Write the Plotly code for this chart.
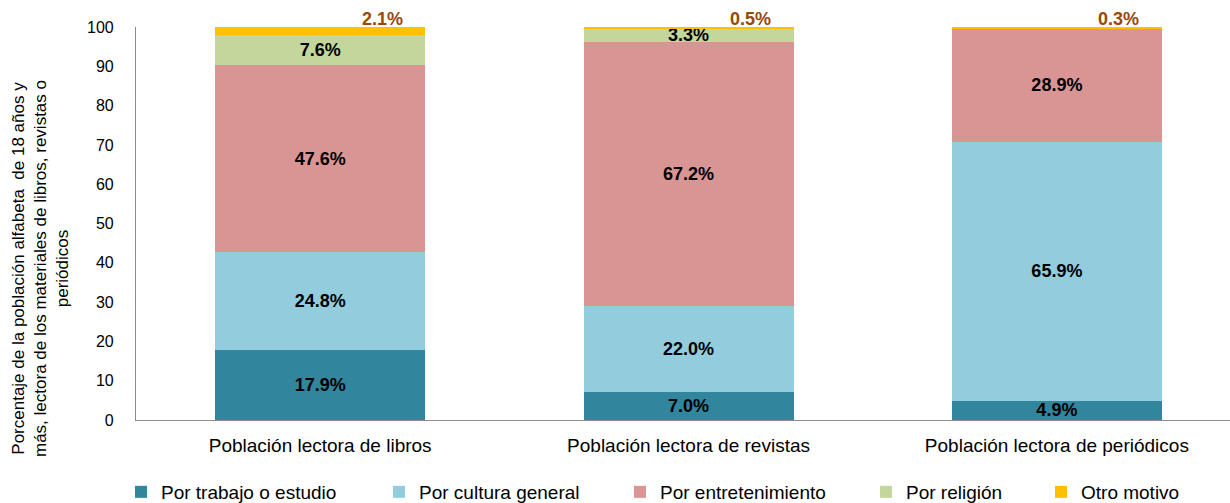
import plotly.graph_objects as go

categories = ["Población lectora de libros", "Población lectora de revistas", "Población lectora de periódicos"]
trabajo = [17.9, 7.0, 4.9]
cultura = [24.8, 22.0, 65.9]
entretenimiento = [47.6, 67.2, 28.9]
religion = [7.6, 3.3, 0.0]
otro = [2.1, 0.5, 0.3]

series_names = ["Por trabajo o estudio", "Por cultura general", "Por entretenimiento", "Por religión", "Otro motivo"]
series_values = [trabajo, cultura, entretenimiento, religion, otro]
colors = ["#31859C", "#93CDDD", "#D99594", "#C3D69B", "#FFC000"]
ytick_vals = list(range(0, 101, 10))

FONT = "Arial, Liberation Sans, sans-serif"
L, R, T, B = 136, 0, 27, 83
W, H = 1230, 503
PW = W - L - R

fig = go.Figure()
legend_text_px = [161, 419, 660, 906, 1081]
for i, (name, vals, col) in enumerate(zip(series_names, series_values, colors)):
    show_text = i < 4
    fig.add_trace(go.Bar(
        x=categories, y=vals, name=name,
        marker=dict(color=col, line=dict(width=0)),
        width=0.57,
        text=[(f"{v:.1f}%" if (show_text and v > 0) else "") for v in vals],
        textposition="inside", insidetextanchor="middle",
        textfont=dict(family=FONT, size=18, color="#000000", weight="bold"),
        legend=f"legend{i+2}",
        hoverinfo="skip",
    ))

# labels for 'Otro motivo' above the bars
totals = [sum(s[k] for s in series_values) for k in range(len(categories))]
for k, cat in enumerate(categories):
    fig.add_annotation(
        x=k, y=totals[k], xref="x", yref="y",
        text=f"{otro[k]:.1f}%", showarrow=False,
        xshift=62, yshift=8, yanchor="middle",
        font=dict(family=FONT, size=18, color="#984807", weight="bold"),
    )

# y-axis title
fig.add_annotation(
    x=(40 - L) / PW, y=(420 - 269) / (420 - 27), xref="paper", yref="paper",
    text="Porcentaje de la población alfabeta  de 18 años y<br>más, lectora de los materiales de libros, revistas o<br>periódicos",
    textangle=-90, showarrow=False, align="center",
    xanchor="center", yanchor="middle",
    font=dict(family=FONT, size=17, color="#000000"),
)

layout_legends = {}
for i, tx in enumerate(legend_text_px):
    key = f"legend{i+2}"
    layout_legends[key] = dict(
        x=(tx - 40) / W, xanchor="left", xref="container",
        y=1 - 492 / H, yanchor="middle", yref="container",
        orientation="h", bgcolor="rgba(0,0,0,0)", borderwidth=0,
        font=dict(family=FONT, size=19, color="#000000"),
    )

fig.update_layout(
    width=W, height=H,
    margin=dict(l=L, r=R, t=T, b=B, autoexpand=False),
    barmode="stack",
    plot_bgcolor="white", paper_bgcolor="white",
    uniformtext=dict(minsize=18, mode="show"),
    xaxis=dict(
        range=[-0.5, 2.47], showline=True, linecolor="#8C8C8C", linewidth=1.2,
        showgrid=False, ticks="", ticklabelstandoff=8,
        tickfont=dict(family=FONT, size=19, color="#000000"),
        zeroline=False,
    ),
    yaxis=dict(
        range=[0, 100], tickvals=ytick_vals, showline=True, linecolor="#8C8C8C", linewidth=1.2,
        showgrid=False, ticks="", ticklabelstandoff=18, zeroline=False,
        tickfont=dict(family=FONT, size=16, color="#000000"),
    ),
    **layout_legends,
)

fig.write_html(
    "out.html",
    config={"displayModeBar": False},
    post_script="document.body.style.margin='0';document.body.style.overflow='hidden';",
)
